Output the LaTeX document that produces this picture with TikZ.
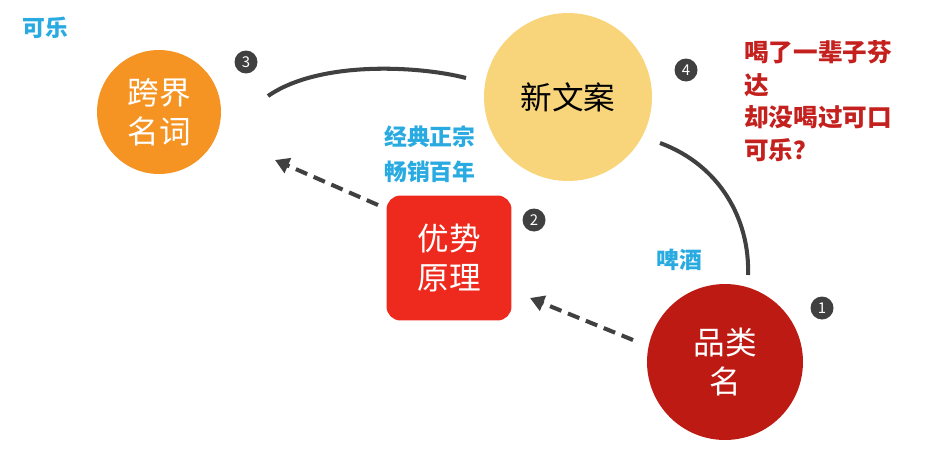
\documentclass[tikz,border=0pt]{standalone}
\usepackage{fontspec}
\setmainfont{Noto Sans CJK SC}
\usetikzlibrary{arrows.meta}
\definecolor{cblue}{RGB}{41,171,226}
\definecolor{cred}{RGB}{196,32,30}
\definecolor{corange}{RGB}{245,148,35}
\definecolor{cyellow}{RGB}{248,212,123}
\definecolor{cbox}{RGB}{238,42,30}
\definecolor{cdark}{RGB}{190,26,20}
\definecolor{cgray}{RGB}{64,64,64}

\begin{document}
\begin{tikzpicture}[x=0.02cm,y=-0.02cm]
\tikzstyle{ball}=[circle,inner sep=0pt,align=center,font=\fontsize{18}{22}\selectfont]
\tikzstyle{badge}=[circle,fill=cgray,text=white,inner sep=0pt,minimum size=0.46cm,font=\fontsize{8.5}{8.5}\selectfont]
\tikzstyle{note}=[align=left,anchor=west,font=\bfseries\fontsize{13}{20}\selectfont]
\tikzstyle{link}=[cgray,line width=2.3pt]
\tikzstyle{push}=[cgray,line width=2.3pt,dash pattern=on 7pt off 4pt,-{Triangle[length=8pt,width=9pt]}]
\useasboundingbox (0,0) rectangle (936,460);

    % Topics
    \node [ball,fill=corange,text=white,minimum size=2.48cm] (cross) at (159,112) {跨界\\名词};
    \node [ball,fill=cyellow,text=black,minimum size=3.36cm] (copy) at (568,97) {新文案};
    \node [rounded corners=8pt,fill=cbox,text=white,minimum size=2.5cm,align=center,font=\fontsize{18}{22}\selectfont] (merit) at (449,258) {优势\\原理};
    \node [ball,fill=cdark,text=white,minimum size=3.12cm] (cat) at (725,362) {品类\\名};

    % Numbers
    \node [badge] (n3) at (246,62) {3};
    \node [badge] (n4) at (686,70) {4};
    \node [badge] (n2) at (534,220) {2};
    \node [badge] (n1) at (822,308) {1};

    % Notes
    \node [note,text=cblue] (cola) at (16,28) {可乐};
    \node [note,text=cblue] (classic) at (378,154) {经典正宗\\畅销百年};
    \node [note,text=cblue] (beer) at (650,260) {啤酒};
    \node [note,text=cred,font=\bfseries\fontsize{14}{18.5}\selectfont] (slogan) at (738,101) {喝了一辈子芬\\达\\却没喝过可口\\可乐？};

    % Links
    \coordinate (a1) at (268,96);
    \coordinate (a2) at (466,78);
    \coordinate (b1) at (660,143);
    \coordinate (b2) at (748,275);
    \draw [link] (a1) .. controls (320,60) and (420,66) .. (a2);
    \draw [link] (b1) .. controls (720,165) and (750,220) .. (b2);

    % Arrows
    \coordinate (c1) at (378,205);
    \coordinate (c2) at (275,160);
    \coordinate (d1) at (633,340);
    \coordinate (d2) at (530,298);
    \draw [push] (c1) -- (c2);
    \draw [push] (d1) -- (d2);
\end{tikzpicture}
\end{document}
